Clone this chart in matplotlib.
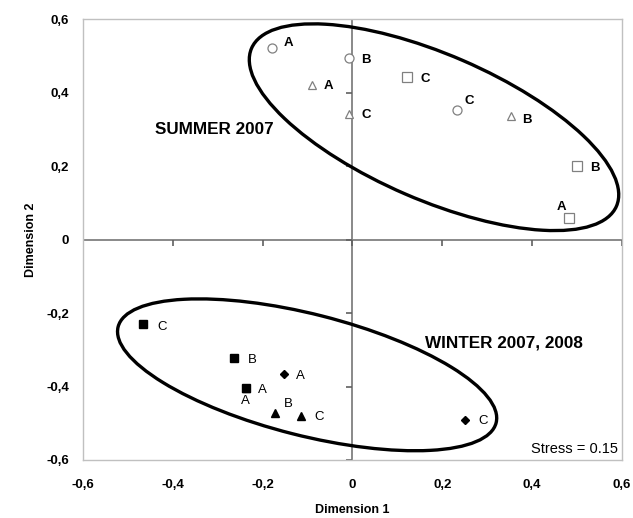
import matplotlib
matplotlib.use('Agg')
import matplotlib.pyplot as plt
from matplotlib.patches import Ellipse
from matplotlib.transforms import ScaledTranslation

plt.rcParams['font.family'] = ['Liberation Sans', 'DejaVu Sans']

# summer 2007 (open markers)
sum_circle_x = [-0.179, -0.008, 0.233]
sum_circle_y = [0.522, 0.495, 0.353]
sum_circle_lab = ['A', 'B', 'C']
sum_tri_x = [-0.090, 0.352, -0.008]
sum_tri_y = [0.422, 0.338, 0.343]
sum_tri_lab = ['A', 'B', 'C']
sum_sq_x = [0.483, 0.500, 0.121]
sum_sq_y = [0.058, 0.200, 0.442]
sum_sq_lab = ['A', 'B', 'C']

# winter 2007, 2008 (filled markers)
win_sq_x = [-0.238, -0.263, -0.466]
win_sq_y = [-0.404, -0.322, -0.230]
win_sq_lab = ['A', 'B', 'C']
win_dia_x = [-0.153, 0.250]
win_dia_y = [-0.366, -0.492]
win_dia_lab = ['A', 'C']
win_tri_x = [-0.238, -0.173, -0.114]
win_tri_y = [-0.404, -0.472, -0.481]
win_tri_lab = ['A', 'B', 'C']

ticks = [-0.6, -0.4, -0.2, 0, 0.2, 0.4, 0.6]
tick_labels = ['-0,6', '-0,4', '-0,2', '0', '0,2', '0,4', '0,6']

fig = plt.figure(figsize=(6.33, 5.18), dpi=100)
ax = fig.add_axes([0.1311, 0.112, 0.8515, 0.8504])
ax.set_xlim(-0.6, 0.6)
ax.set_ylim(-0.6, 0.6)
for s in ax.spines.values():
    s.set_color('#c0c0c0')
    s.set_linewidth(1)

ax.set_xticks(ticks)
ax.set_yticks(ticks)
ax.set_xticklabels(tick_labels, fontsize=9.5, fontweight='bold')
ax.set_yticklabels(tick_labels, fontsize=9.5, fontweight='bold')
ax.tick_params(axis='both', length=0)
ax.tick_params(axis='x', pad=14)
ax.tick_params(axis='y', pad=10)
ax.set_xlabel('Dimension 1', fontsize=9, fontweight='bold', labelpad=9)
ax.set_ylabel('Dimension 2', fontsize=9, fontweight='bold', labelpad=7)

# axes through the origin with their tick marks
ax.axhline(0, color='#808080', lw=1.3, zorder=1)
ax.axvline(0, color='#808080', lw=1.3, zorder=1)
ax.plot(ticks, [0] * len(ticks), ls='none', marker=3, ms=4, mew=1.2, color='#606060', zorder=1)
ax.plot([0] * len(ticks), ticks, ls='none', marker=0, ms=4, mew=1.2, color='#606060', zorder=1)

def ring(cx, cy, w, h, ang):
    tr = fig.dpi_scale_trans + ScaledTranslation(cx, cy, ax.transData)
    ax.add_patch(Ellipse((0, 0), w, h, angle=ang, transform=tr,
                         fill=False, ec='black', lw=2.4, zorder=2))

ring(0.1815, 0.3065, 3.976, 1.454, -23.4)
ring(-0.101, -0.368, 3.90, 1.214, -14.25)

open_kw = dict(ls='none', mfc='white', mec='#808080', mew=0.9, zorder=3)
ax.plot(sum_circle_x, sum_circle_y, marker='o', ms=6.5, **open_kw)
ax.plot(sum_tri_x, sum_tri_y, marker='^', ms=6, **open_kw)
ax.plot(sum_sq_x, sum_sq_y, marker='s', ms=6.5, **open_kw)

fill_kw = dict(ls='none', color='black', zorder=3)
ax.plot(win_sq_x, win_sq_y, marker='s', ms=5.5, **fill_kw)
ax.plot(win_dia_x, win_dia_y, marker='D', ms=4.5, **fill_kw)
ax.plot(win_tri_x, win_tri_y, marker='^', ms=6, **fill_kw)

def labels(xs, ys, labs, offs, weight):
    for x, y, t, (dx, dy) in zip(xs, ys, labs, offs):
        ax.annotate(t, (x, y), xytext=(dx, dy), textcoords='offset points',
                    ha='center', va='center', fontsize=9.5, fontweight=weight, zorder=4)

labels(sum_circle_x, sum_circle_y, sum_circle_lab, [(12, 4), (12.5, -1.2), (9, 6.3)], 'bold')
labels(sum_tri_x, sum_tri_y, sum_tri_lab, [(12, -1.2), (11.5, -3.4), (12.5, -0.8)], 'bold')
labels(sum_sq_x, sum_sq_y, sum_sq_lab, [(-5.5, 8.3), (13, -1.2), (13.3, -1.2)], 'bold')
labels(win_sq_x, win_sq_y, win_sq_lab, [(12, -1.2), (12.7, -1.2), (13.3, -1.7)], 'normal')
labels(win_dia_x, win_dia_y, win_dia_lab, [(12.2, -1.2), (12.9, -0.8)], 'normal')
labels(win_tri_x, win_tri_y, win_tri_lab, [(0, -9), (9.7, 6.8), (12.9, -0.5)], 'normal')

ax.text(-0.44, 0.30, 'SUMMER 2007', fontsize=12.3, fontweight='bold', ha='left', va='center')
ax.text(0.161, -0.281, 'WINTER 2007, 2008', fontsize=12.3, fontweight='bold', ha='left', va='center')
ax.text(0.591, -0.569, 'Stress = 0.15', fontsize=10.5, ha='right', va='center')

fig.savefig('out.png', dpi=100)
